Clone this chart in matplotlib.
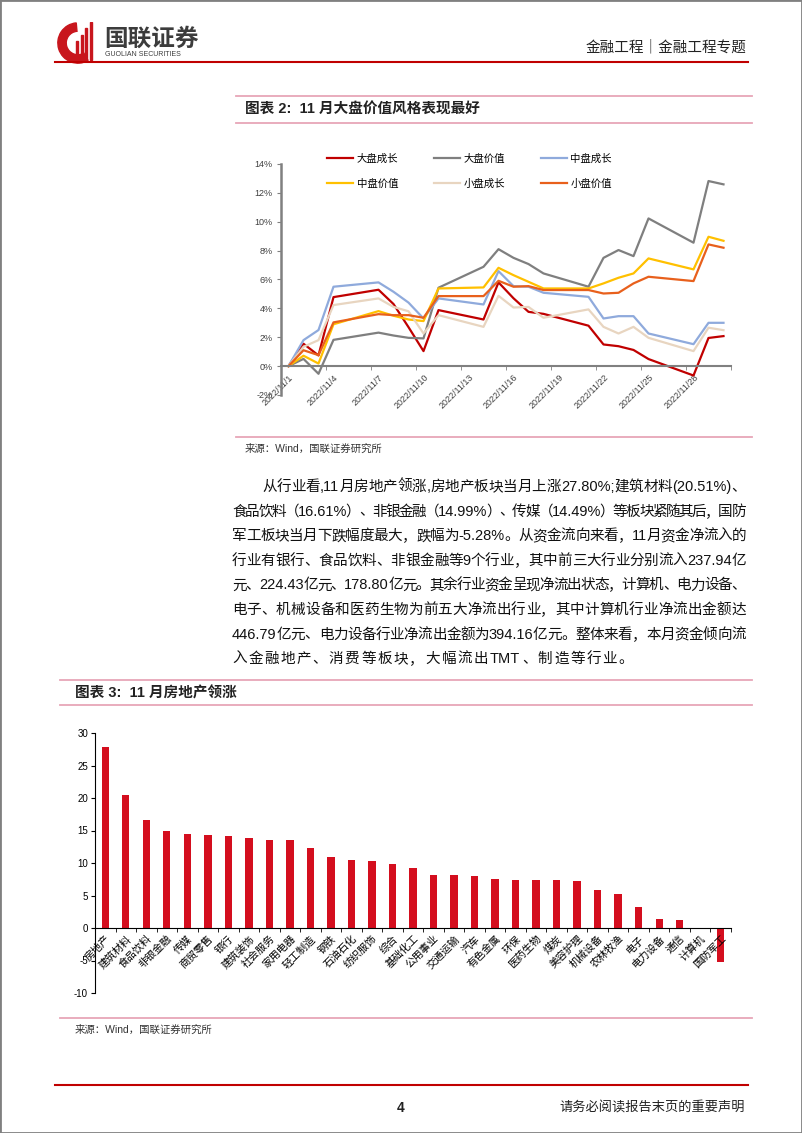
import matplotlib
matplotlib.use('Agg')
import matplotlib.pyplot as plt
import numpy as np
from matplotlib.lines import Line2D
from matplotlib.patches import Rectangle, Wedge

# ---- data: chart 2 (cumulative return of style indices, %)
trade_days = ['2022/11/1', '2022/11/2', '2022/11/3', '2022/11/4', '2022/11/7', '2022/11/8',
              '2022/11/9', '2022/11/10', '2022/11/11', '2022/11/14', '2022/11/15', '2022/11/16',
              '2022/11/17', '2022/11/18', '2022/11/21', '2022/11/22', '2022/11/23', '2022/11/24',
              '2022/11/25', '2022/11/28', '2022/11/29', '2022/11/30']
large_growth = [0, 1.55, 0.74, 4.78, 5.29, 4.3, 2.7, 1.04, 3.88, 3.23, 5.8, 4.7, 3.76, 3.62,
                2.8, 1.5, 1.38, 1.12, 0.49, -0.65, 1.95, 2.08]
large_value = [0, 0.5, -0.53, 1.82, 2.32, 2.12, 1.96, 1.92, 5.43, 6.88, 8.1, 7.5, 7.07, 6.42,
               5.5, 7.5, 8.04, 7.62, 10.23, 8.55, 12.82, 12.59]
mid_growth = [0, 1.8, 2.5, 5.5, 5.8, 5.15, 4.4, 3.3, 4.69, 4.27, 6.58, 5.54, 5.5, 5.08,
              4.8, 3.3, 3.46, 3.46, 2.26, 1.52, 3.0, 3.0]
mid_value = [0, 0.72, 0.18, 2.9, 3.81, 3.49, 3.23, 3.12, 5.38, 5.45, 6.81, 6.3, 5.84, 5.38,
             5.38, 5.73, 6.12, 6.42, 7.46, 6.7, 8.96, 8.68]
small_growth = [0, 1.34, 1.8, 4.23, 4.69, 4.1, 3.8, 2.26, 3.53, 2.72, 4.87, 4.06, 4.1, 3.35,
                3.93, 2.72, 2.26, 2.72, 1.96, 1.04, 2.66, 2.49]
small_value = [0, 1.1, 0.76, 3.03, 3.6, 3.53, 3.53, 3.35, 4.85, 4.85, 5.91, 5.5, 5.54, 5.27,
               5.27, 5.03, 5.08, 5.73, 6.19, 5.89, 8.43, 8.2]
style_names = ['大盘成长', '大盘价值', '中盘成长', '中盘价值', '小盘成长', '小盘价值']
style_colors = ['#C00000', '#7F7F7F', '#8FAADC', '#FFC000', '#E8D5C0', '#E8601C']

# ---- data: chart 3 (industry returns in November, %)
industries = ['房地产', '建筑材料', '食品饮料', '非银金融', '传媒', '商贸零售', '银行', '建筑装饰',
              '社会服务', '家用电器', '轻工制造', '钢铁', '石油石化', '纺织服饰', '综合', '基础化工',
              '公用事业', '交通运输', '汽车', '有色金属', '环保', '医药生物', '煤炭', '美容护理',
              '机械设备', '农林牧渔', '电子', '电力设备', '通信', '计算机', '国防军工']
ind_returns = [27.80, 20.51, 16.61, 14.99, 14.49, 14.26, 14.1, 13.8, 13.6, 13.5, 12.36, 10.97,
               10.46, 10.26, 9.8, 9.23, 8.15, 8.12, 8.05, 7.49, 7.44, 7.33, 7.33, 7.28, 5.8,
               5.28, 3.18, 1.33, 1.18, 0.05, -5.28]

para_lines = [
    '从行业看,11月房地产领涨,房地产板块当月上涨27.80%;建筑材料(20.51%)、',
    '食品饮料（16.61%）、非银金融（14.99%）、传媒（14.49%）等板块紧随其后，国防',
    '军工板块当月下跌幅度最大，跌幅为-5.28%。从资金流向来看，11 月资金净流入的',
    '行业有银行、食品饮料、非银金融等 9 个行业，其中前三大行业分别流入 237.94 亿',
    '元、224.43 亿元、178.80 亿元。其余行业资金呈现净流出状态，计算机、电力设备、',
    '电子、机械设备和医药生物为前五大净流出行业，其中计算机行业净流出金额达',
    '446.79 亿元、电力设备行业净流出金额为 394.16 亿元。整体来看，本月资金倾向流',
    '入金融地产、消费等板块，大幅流出 TMT、制造等行业。',
]

W, H = 802, 1133
plt.rcParams['font.family'] = ['Liberation Sans', 'Noto Sans CJK SC']
plt.rcParams['axes.unicode_minus'] = False


def fx(x):
    return x / W


def fy(y):
    return 1 - y / H


fig = plt.figure(figsize=(W / 100, H / 100), dpi=100)


def hline(y, x0, x1, color, lw):
    fig.add_artist(Line2D([fx(x0), fx(x1)], [fy(y), fy(y)], color=color, lw=lw,
                          transform=fig.transFigure))


# page frame
fig.add_artist(Rectangle((0, 0), 1, 1, transform=fig.transFigure, fill=False,
                         edgecolor='#808080', lw=2))

# header
logo = fig.add_axes([fx(56), fy(64), 44 / W, 42 / H])
logo.set_xlim(0, 1)
logo.set_ylim(0, 1)
logo.set_aspect('equal')
logo.axis('off')
logo.add_patch(Wedge((0.5, 0.5), 0.48, 95, 300, width=0.2, color='#C8161D'))
for i, hgt in enumerate([0.45, 0.6, 0.75, 0.9]):
    logo.add_patch(Rectangle((0.45 + i * 0.11, 0.1), 0.05, hgt, color='#C8161D'))
fig.text(fx(104), fy(39), '国联证券', fontsize=17, fontweight='bold', color='#3C3C3C',
         va='center', ha='left')
fig.text(fx(105), fy(54), 'GUOLIAN SECURITIES', fontsize=5, color='#3C3C3C', va='center')
fig.text(fx(746), fy(47), '金融工程｜金融工程专题', fontsize=10.5, color='#222222',
         ha='right', va='center')
hline(62, 55, 748, '#C00000', 1.5)

pink = '#E7A6B8'

# chart 2 frame
hline(96, 236, 752, pink, 1.3)
fig.text(fx(245), fy(110), '图表 2:  11 月大盘价值风格表现最好', fontsize=10.5,
         fontweight='bold', color='#222222', va='center')
hline(123, 236, 752, pink, 1.3)

ax1 = fig.add_axes([fx(281), fy(395), 450 / W, 231 / H])
xday = [int(d.split('/')[-1]) for d in trade_days]
series = [large_growth, large_value, mid_growth, mid_value, small_growth, small_value]
lines = []
for vals, name, col in zip(series, style_names, style_colors):
    ln, = ax1.plot(xday, vals, color=col, lw=1.6, label=name)
    lines.append(ln)
ax1.set_xlim(0.5, 30.5)
ax1.set_ylim(-2, 14)
ax1.set_yticks(np.arange(-2, 15, 2))
ax1.set_yticklabels(['%d%%' % v for v in np.arange(-2, 15, 2)])
for s in ['top', 'right']:
    ax1.spines[s].set_visible(False)
ax1.spines['left'].set_color('#808080')
ax1.spines['left'].set_linewidth(1.8)
ax1.spines['bottom'].set_position(('data', 0))
ax1.spines['bottom'].set_color('#808080')
ax1.spines['bottom'].set_linewidth(1.5)
ax1.tick_params(axis='y', direction='out', length=3, color='#808080', labelsize=6.5,
                labelcolor='#404040', pad=3)
lab_pos = list(range(1, 31, 3))
ax1.set_xticks(lab_pos)
ax1.set_xticklabels(['2022/11/%d' % d for d in lab_pos], rotation=45, ha='right',
                    va='top', rotation_mode='anchor')
ax1.set_xticks(np.arange(0.5, 31, 3), minor=True)
ax1.tick_params(axis='x', which='major', length=0, labelsize=6.5, labelcolor='#404040', pad=5)
ax1.tick_params(axis='x', which='minor', length=3, direction='out', color='#808080')
order = [0, 3, 1, 4, 2, 5]
ax1.legend([lines[i] for i in order], [style_names[i] for i in order], ncol=3,
           loc='upper left', bbox_to_anchor=(fx(318), fy(144)),
           bbox_transform=fig.transFigure, frameon=False, fontsize=7.5,
           handlelength=2.5, handletextpad=0.35, columnspacing=3.4, labelspacing=1.45)

hline(437, 236, 752, pink, 1.3)
fig.text(fx(245), fy(449), '来源：Wind，国联证券研究所', fontsize=7.5, color='#333333',
         va='center')

# body paragraph, justified line by line
renderer = fig.canvas.get_renderer()


def tokens(s):
    out, buf = [], ''
    for ch in s:
        if ch == ' ':
            if buf:
                out.append(buf)
                buf = ''
        elif ord(ch) < 128:
            buf += ch
        else:
            if buf:
                out.append(buf)
                buf = ''
            out.append(ch)
    if buf:
        out.append(buf)
    return out


for i, txt in enumerate(para_lines):
    ly = 487 + 24.6 * i
    x0 = 262 if i == 0 else 232
    x1 = 746
    toks = tokens(txt)
    objs = [fig.text(0, fy(ly), t, fontsize=10.5, color='#111111', va='center')
            for t in toks]
    widths = [o.get_window_extent(renderer).width for o in objs]
    if i == len(para_lines) - 1:
        gap = 1.5
    else:
        gap = (x1 - x0 - sum(widths)) / (len(toks) - 1)
    x = x0
    for o, w in zip(objs, widths):
        o.set_x(fx(x))
        x += w + gap

# chart 3 frame
hline(680, 60, 752, pink, 1.3)
fig.text(fx(75), fy(693), '图表 3:  11 月房地产领涨', fontsize=10.5, fontweight='bold',
         color='#222222', va='center')
hline(705, 60, 752, pink, 1.3)

ax2 = fig.add_axes([fx(95), fy(993), 636 / W, 260 / H])
xpos = np.arange(len(industries))
ax2.bar(xpos, ind_returns, width=0.36, color='#D40E1E')
ax2.set_xlim(-0.5, len(industries) - 0.5)
ax2.set_ylim(-10, 30)
ax2.set_yticks(np.arange(-10, 31, 5))
for s in ['top', 'right']:
    ax2.spines[s].set_visible(False)
ax2.spines['left'].set_linewidth(0.8)
ax2.spines['bottom'].set_position(('data', 0))
ax2.spines['bottom'].set_linewidth(0.8)
ax2.tick_params(axis='y', direction='out', length=3, labelsize=7, pad=2)
ax2.set_xticks(xpos)
ax2.set_xticklabels(industries, rotation=45, ha='right', va='top', rotation_mode='anchor')
ax2.set_xticks(np.arange(-0.5, len(industries), 1), minor=True)
ax2.tick_params(axis='x', which='major', length=0, labelsize=7.5, pad=4)
ax2.tick_params(axis='x', which='minor', length=3, direction='out')

hline(1018, 60, 752, pink, 1.3)
fig.text(fx(75), fy(1030), '来源：Wind，国联证券研究所', fontsize=7.5, color='#333333',
         va='center')

# footer
hline(1085, 55, 748, '#C00000', 1.5)
fig.text(fx(401), fy(1108), '4', fontsize=10, fontweight='bold', color='#222222',
         ha='center', va='center')
fig.text(fx(745), fy(1108), '请务必阅读报告末页的重要声明', fontsize=9.5, color='#222222',
         ha='right', va='center')

fig.savefig('out.png', dpi=100)
